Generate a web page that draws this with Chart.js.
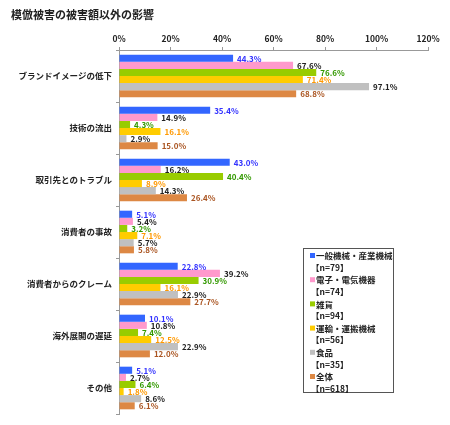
<!DOCTYPE html>
<html><head><meta charset="utf-8">
<script src="https://cdn.jsdelivr.net/npm/chart.js@4"></script>
<style>html,body{margin:0;padding:0;background:#fff}#wrap{width:450px;height:425px}</style>
</head><body><div id="wrap"><canvas id="c" width="450" height="425"></canvas></div>
<script>
const titleText = "模倣被害の被害額以外の影響";
const categories = ["ブランドイメージの低下","技術の流出","取引先とのトラブル","消費者の事故","消費者からのクレーム","海外展開の遅延","その他"];
const seriesNames = ["一般機械・産業機械","電子・電気機器","雑貨","運輸・運搬機械","食品","全体"];
const seriesN = ["【n=79】","【n=74】","【n=94】","【n=56】","【n=35】","【n=618】"];
const general  = [44.3,35.4,43.0,5.1,22.8,10.1,5.1];
const electric = [67.6,14.9,16.2,5.4,39.2,10.8,2.7];
const goods    = [76.6,4.3,40.4,3.2,30.9,7.4,6.4];
const transport= [71.4,16.1,8.9,7.1,16.1,12.5,1.8];
const food     = [97.1,2.9,14.3,5.7,22.9,22.9,8.6];
const total    = [68.8,15.0,26.4,5.8,27.7,12.0,6.1];
const xTicks = [0,20,40,60,80,100,120];

const barColors = ["#3366ff","#ff99cc","#99cc00","#ffcc00","#c0c0c0","#dd8844"];
const labelColors = ["#3333ff","#222222","#339900","#ff9900","#222222","#aa5522"];
const FONT = "'Noto Sans CJK JP', 'DejaVu Sans', sans-serif";
const seriesData = [general,electric,goods,transport,food,total];

const labelPlugin = {
  id:'lbl',
  afterDatasetsDraw(chart){
    const ctx = chart.ctx;
    ctx.save();
    ctx.font = "bold 8px " + FONT;
    ctx.textBaseline = "middle";
    ctx.textAlign = "left";
    chart.data.datasets.forEach((ds,i)=>{
      const meta = chart.getDatasetMeta(i);
      meta.data.forEach((el,j)=>{
        ctx.fillStyle = labelColors[i];
        ctx.fillText(ds.data[j].toFixed(1)+"%", el.x+4, el.y+0.5);
      });
    });
    ctx.restore();
  },
  afterDraw(chart){
    const ctx = chart.ctx;
    ctx.save();
    // title
    ctx.font = "bold 11px " + FONT;
    ctx.fillStyle = "#222";
    ctx.textBaseline = "middle";
    ctx.textAlign = "left";
    ctx.fillText(titleText, 11, 15);
    // legend
    const lx = 303, ly = 248, lw = 90, lh = 144;
    ctx.fillStyle = "#fff";
    ctx.fillRect(lx, ly, lw, lh);
    ctx.strokeStyle = "#555";
    ctx.lineWidth = 1;
    ctx.strokeRect(lx+0.5, ly+0.5, lw, lh);
    ctx.font = "bold 8.5px " + FONT;
    seriesNames.forEach((n,i)=>{
      const y = ly + 8 + i*24.2;
      ctx.fillStyle = barColors[i];
      ctx.fillRect(lx+7, y-3, 5, 5);
      ctx.fillStyle = "#222";
      ctx.fillText(n, lx+13, y);
      ctx.fillText(seriesN[i], lx+8, y+11.5);
    });
    ctx.restore();
  }
};

new Chart(document.getElementById('c'), {
  type:'bar',
  data:{
    labels: categories,
    datasets: seriesNames.map((n,i)=>({
      label:n, data:seriesData[i], backgroundColor:barColors[i],
      borderWidth:0, categoryPercentage:0.82, barPercentage:1.0
    }))
  },
  options:{
    indexAxis:'y',
    responsive:false,
    animation:false,
    devicePixelRatio:1,
    layout:{padding:{top:0,right:22,bottom:11,left:0}},
    plugins:{legend:{display:false},title:{display:false},tooltip:{enabled:false}},
    scales:{
      x:{
        position:'top', min:0, max:120,
        afterBuildTicks(s){ s.ticks = xTicks.map(v=>({value:v})); },
        afterFit(s){ s.height = 50; },
        grid:{drawOnChartArea:false, drawTicks:true, tickLength:3, color:'#999'},
        border:{color:'#999'},
        ticks:{callback:v=>v+"%", font:{family:FONT, size:8.5, weight:'bold'}, color:'#222', padding:3, maxRotation:0}
      },
      y:{
        afterFit(s){ s.width = 119; },
        grid:{drawOnChartArea:false, drawTicks:true, tickLength:3, offset:true, color:'#999'},
        border:{color:'#999'},
        ticks:{font:{family:FONT, size:8.5, weight:'bold'}, color:'#222', padding:4}
      }
    }
  },
  plugins:[labelPlugin]
});
</script></body></html>
